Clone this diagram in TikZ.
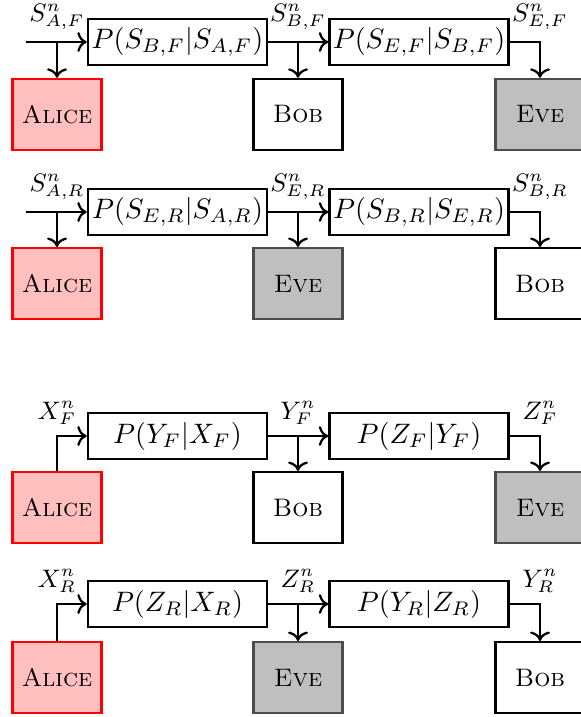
\documentclass[tikz,border=0pt]{standalone}
\usepackage{amsmath}
\usepackage{tikz}
\usetikzlibrary{arrows.meta,calc}

\tikzset{
  chan/.style={draw, thick, minimum width=2.24cm, minimum height=0.575cm, inner sep=0pt,
    font=\fontsize{9.8}{11}\selectfont},
  party/.style={draw, thick, minimum width=1.1125cm, minimum height=0.8875cm, inner sep=0pt,
    font=\fontsize{9}{10}\selectfont},
  alice/.style={party, draw=red, fill=red!25},
  bob/.style={party, draw=black},
  eve/.style={party, draw=black!70, fill=black!25},
  sig/.style={above=4pt, inner sep=0pt, font=\fontsize{8.8}{10}\selectfont}
}

\begin{document}
\begin{tikzpicture}
    \useasboundingbox (0, 0) rectangle (7.25, -8.9625);

    % forward, Bob in the middle
    \node [chan] (c1a) at (2.219, -0.525) {$P(S_{B,F}|S_{A,F})$};
    \node [chan] (c1b) at (5.2375, -0.525) {$P(S_{E,F}|S_{B,F})$};
    \node [alice] (a1) at (0.7125, -1.43) {\textsc{Alice}};
    \node [bob] (b1) at (3.725, -1.43) {\textsc{Bob}};
    \node [eve] (e1) at (6.75, -1.43) {\textsc{Eve}};
    \coordinate (i1) at (0.325, -0.525);
    \coordinate (j1a) at (a1 |- c1a);
    \coordinate (j1b) at (b1 |- c1a);
    \coordinate (o1) at (e1 |- c1b);
    \draw [thick, ->] (i1) -- (c1a);
    \draw [thick, ->] (j1a) -- (a1);
    \draw [thick, ->] (c1a) -- (c1b);
    \draw [thick, ->] (j1b) -- (b1);
    \draw [thick, ->] (c1b) -- (o1) -- (e1);
    \node [sig] (s1a) at (j1a) {$S^n_{A,F}$};
    \node [sig] (s1b) at (j1b) {$S^n_{B,F}$};
    \node [sig] (s1c) at (o1) {$S^n_{E,F}$};

    % reverse, Eve in the middle
    \node [chan] (c2a) at (2.219, -2.65) {$P(S_{E,R}|S_{A,R})$};
    \node [chan] (c2b) at (5.2375, -2.65) {$P(S_{B,R}|S_{E,R})$};
    \node [alice] (a2) at (0.7125, -3.545) {\textsc{Alice}};
    \node [eve] (e2) at (3.725, -3.545) {\textsc{Eve}};
    \node [bob] (b2) at (6.75, -3.545) {\textsc{Bob}};
    \coordinate (i2) at (0.325, -2.65);
    \coordinate (j2a) at (a2 |- c2a);
    \coordinate (j2b) at (e2 |- c2a);
    \coordinate (o2) at (b2 |- c2b);
    \draw [thick, ->] (i2) -- (c2a);
    \draw [thick, ->] (j2a) -- (a2);
    \draw [thick, ->] (c2a) -- (c2b);
    \draw [thick, ->] (j2b) -- (e2);
    \draw [thick, ->] (c2b) -- (o2) -- (b2);
    \node [sig] (s2a) at (j2a) {$S^n_{A,R}$};
    \node [sig] (s2b) at (j2b) {$S^n_{E,R}$};
    \node [sig] (s2c) at (o2) {$S^n_{B,R}$};

    % Alice sends, forward
    \node [chan] (c3a) at (2.219, -5.45) {$P(Y_F|X_F)$};
    \node [chan] (c3b) at (5.2375, -5.45) {$P(Z_F|Y_F)$};
    \node [alice] (a3) at (0.7125, -6.345) {\textsc{Alice}};
    \node [bob] (b3) at (3.725, -6.345) {\textsc{Bob}};
    \node [eve] (e3) at (6.75, -6.345) {\textsc{Eve}};
    \coordinate (j3a) at (a3 |- c3a);
    \coordinate (j3b) at (b3 |- c3a);
    \coordinate (o3) at (e3 |- c3b);
    \draw [thick, ->] (a3) -- (j3a) -- (c3a);
    \draw [thick, ->] (c3a) -- (c3b);
    \draw [thick, ->] (j3b) -- (b3);
    \draw [thick, ->] (c3b) -- (o3) -- (e3);
    \node [sig] (s3a) at (j3a) {$X^n_F$};
    \node [sig] (s3b) at (j3b) {$Y^n_F$};
    \node [sig] (s3c) at (o3) {$Z^n_F$};

    % Alice sends, reverse
    \node [chan] (c4a) at (2.219, -7.55) {$P(Z_R|X_R)$};
    \node [chan] (c4b) at (5.2375, -7.55) {$P(Y_R|Z_R)$};
    \node [alice] (a4) at (0.7125, -8.47) {\textsc{Alice}};
    \node [eve] (e4) at (3.725, -8.47) {\textsc{Eve}};
    \node [bob] (b4) at (6.75, -8.47) {\textsc{Bob}};
    \coordinate (j4a) at (a4 |- c4a);
    \coordinate (j4b) at (e4 |- c4a);
    \coordinate (o4) at (b4 |- c4b);
    \draw [thick, ->] (a4) -- (j4a) -- (c4a);
    \draw [thick, ->] (c4a) -- (c4b);
    \draw [thick, ->] (j4b) -- (e4);
    \draw [thick, ->] (c4b) -- (o4) -- (b4);
    \node [sig] (s4a) at (j4a) {$X^n_R$};
    \node [sig] (s4b) at (j4b) {$Z^n_R$};
    \node [sig] (s4c) at (o4) {$Y^n_R$};
\end{tikzpicture}
\end{document}
